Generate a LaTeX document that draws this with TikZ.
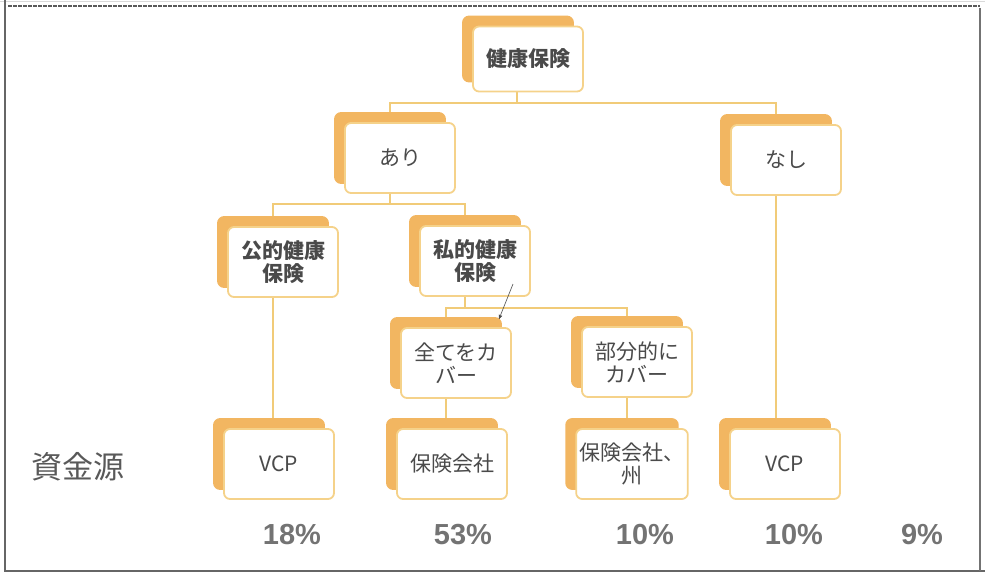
\documentclass[tikz,border=0pt]{standalone}
\usepackage{fontspec}
\setmainfont{Noto Sans CJK JP}
\newfontfamily\pctfont{Liberation Sans}
\usetikzlibrary{arrows,backgrounds,positioning,shadows}
\definecolor{boxline}{HTML}{F5D28A}
\definecolor{boxback}{HTML}{F2B661}
\definecolor{linkcol}{HTML}{F1CB78}
\definecolor{inktext}{HTML}{4A4A4A}
\edef\sizewidth{110pt}
\edef\sizeheight{70pt}
\tikzstyle{plan}=[draw=boxline, line width=1.8pt, fill=white, rounded corners=6pt,
  minimum width=\sizewidth, minimum height=\sizeheight, align=center, text=inktext,
  font=\fontsize{21}{23}\selectfont,
  copy shadow={shadow xshift=-10pt, shadow yshift=10pt, fill=boxback, draw=boxback}]
\tikzstyle{planbold}=[plan, font=\bfseries\fontsize{21}{23}\selectfont]
\tikzstyle{link}=[draw=linkcol, line width=2pt]
\tikzstyle{pct}=[text=black!55, font=\pctfont\bfseries\fontsize{29}{29}\selectfont]

\begin{document}
\begin{tikzpicture}[x=1pt,y=-1pt]
		\useasboundingbox (0,0) rectangle (985,574);
		% frame of the scan
		\draw[black!15, line width=1pt] (0,1) -- (985,1);
		\draw[black!65, line width=1.5pt, dash pattern=on 4pt off 1pt] (8,6) -- (980,6);
		\draw[black!60, line width=2pt] (5,0) -- (5,571) -- (985,571);
		\draw[black!55, line width=1.5pt] (980,8) -- (980,571);

		% tree
		\node[planbold, minimum height=65pt] (root) at (528,59) {健康保険};
		\node[plan] (ari) at (400,158) {あり};
		\node[plan] (nashi) at (786,160) {なし};
		\node[planbold] (pub) at (283,262) {公的健康\\保険};
		\node[planbold] (priv) at (475,261) {私的健康\\保険};
		\node[plan] (full) at (456,363) {全てをカ\\バー};
		\node[plan] (part) at (637,362) {部分的に\\カバー};
		\node[plan] (vcpa) at (279,464) {VCP};
		\node[plan] (ins) at (452,464) {保険会社};
		\node[plan] (insst) at (632,464) {保険会社、\\州};
		\node[plan] (vcpb) at (785,464) {VCP};

		\begin{scope}[on background layer]
		\draw[link] ([xshift=-11pt]root.south) -- ++(0,11) coordinate (r1) -| ([xshift=-10pt]ari.north);
		\draw[link] (r1) -| ([xshift=-10pt]nashi.north);
		\draw[link] ([xshift=-10pt]ari.south) -- ++(0,10) coordinate (a1) -| ([xshift=-10pt]pub.north);
		\draw[link] (a1) -| ([xshift=-10pt]priv.north);
		\draw[link] ([xshift=-10pt]priv.south) -- ++(0,11) coordinate (p1) -| ([xshift=-10pt]full.north);
		\draw[link] (p1) -| ([xshift=-10pt]part.north);
		\draw[link] ([xshift=-10pt]pub.south) -- ([xshift=-10pt]pub.south |- vcpa.north);
		\draw[link] ([xshift=-10pt]full.south) -- ([xshift=-10pt]full.south |- ins.north);
		\draw[link] ([xshift=-10pt]part.south) -- ([xshift=-10pt]part.south |- insst.north);
		\draw[link] ([xshift=-10pt]nashi.south) -- ([xshift=-10pt]nashi.south |- vcpb.north);
		\end{scope}

		% pen mark
		\coordinate (pen1) at (513,284);
		\coordinate (pen2) at (499,319);
		\draw[->, >=stealth', black!70, line width=0.6pt] (pen1) -- (pen2);

		\node[text=black!65, font=\fontsize{31}{31}\selectfont] (src) at (78,467) {資金源};
		\node[pct] (q1) at (292,535) {18\%};
		\node[pct] (q2) at (463,535) {53\%};
		\node[pct] (q3) at (645,535) {10\%};
		\node[pct] (q4) at (794,535) {10\%};
		\node[pct] (q5) at (922,535) {9\%};
		\end{tikzpicture}
\end{document}
